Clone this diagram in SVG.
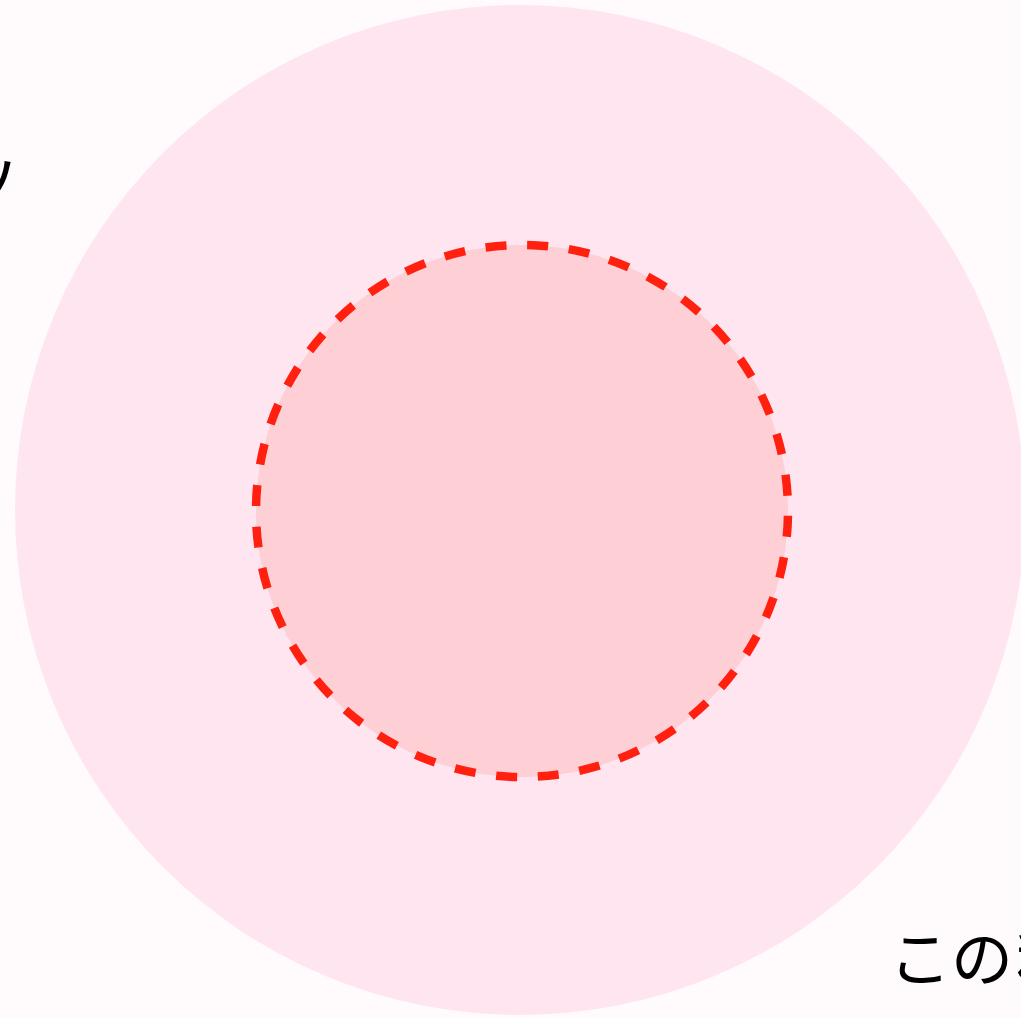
<svg xmlns="http://www.w3.org/2000/svg" width="1021" height="1018" viewBox="0 0 1021 1018">
  <style>
    .lbl { font-family: "Noto Sans CJK JP", "Noto Sans", sans-serif; font-size: 62px; fill: #000000; }
    .outer { fill: #FFE5EF; }
    .inner { fill: #FFCFD6; }
    .ring { fill: none; stroke: #FF2010; stroke-width: 8.5; stroke-dasharray: 21 20.78; stroke-dashoffset: 37; }
  </style>
  <rect x="0" y="0" width="1021" height="1018" fill="#FFFBFC"/>
  <g id="outer-zone">
    <circle class="outer" cx="520" cy="510" r="505"/>
  </g>
  <g id="inner-zone">
    <circle class="inner" cx="522" cy="511" r="266"/>
    <circle class="ring" cx="522" cy="511" r="266"/>
  </g>
  <g id="labels">
    <text class="lbl" x="20" y="207" text-anchor="end">ソ</text>
    <text class="lbl" x="889" y="982">この<tspan dx="3">私</tspan></text>
  </g>
  <g id="connectors"></g>
</svg>
